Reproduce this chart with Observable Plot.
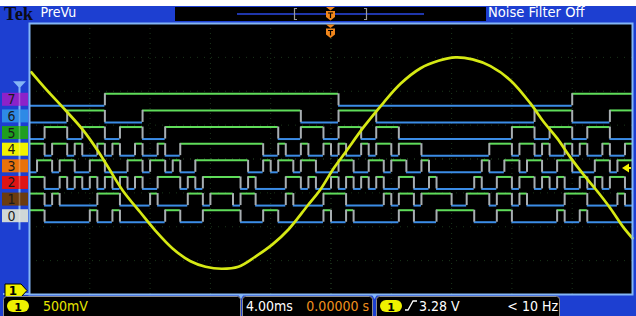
<!DOCTYPE html>
<html>
<head>
<meta charset="utf-8">
<script src="https://cdn.jsdelivr.net/npm/d3@7"></script>
<script src="https://cdn.jsdelivr.net/npm/@observablehq/plot@0.6"></script>
<style>
html, body { margin: 0; padding: 0; background: #ffffff; }
#scope { position: relative; width: 636px; height: 316px; overflow: hidden;
  background: linear-gradient(#ffffff 0, #ffffff 6px, #1d3fd1 6px, #1d3fd1 100%); }
#scope > svg { position: absolute; left: 0; top: 0; }
</style>
</head>
<body>
<div id="scope"></div>
<script>
const timeDomainMs = [-20, 20];          // 10 div x 4.00 ms
const voltDomain = [1.42, 5.42];         // 8 div x 500 mV
const triggerLevelV = 3.28;
const triggerTimeMs = 0;

// analog channel 1 (sine) samples
const sineTimeMs = [-19.87,-18.94,-17.61,-16.42,-15.49,-14.76,-13.83,-12.64,-11.64,-10.51,-9.32,-8.32,-7.26,-6.14,-5.01,-3.88,-2.82,-1.56,-0.70,0.17,0.96,2.16,3.48,4.61,5.94,7.13,8.26,9.39,10.58,11.91,13.23,14.10,15.02,15.89,16.75,17.68,18.54,19.40,20.0];
const sineVolts  = [4.70,4.46,4.14,3.84,3.55,3.29,2.96,2.63,2.36,2.10,1.91,1.83,1.80,1.83,1.98,2.16,2.38,2.73,2.97,3.28,3.52,3.89,4.25,4.53,4.76,4.87,4.92,4.89,4.79,4.58,4.24,3.97,3.72,3.44,3.19,2.94,2.69,2.41,2.25];

// digital channels D0..D7, one bit per 0.5 ms sample from the left edge
const sampleStartMs = -20;
const sampleStepMs = 0.5;
const bitsD0 = ["1100000010","0100000011","0001111100","0110000001","0010000001","1000111110","0011000000","1001000000"].join("");
const bitsD1 = ["1101000001","1100001000","0110111011","0000100001","1100000101","1011110011","1011010000","0111000010"].join("");
const bitsD2 = ["1100101010","1010100111","0101111101","0000110100","1010101001","1001000001","0011011010","1001010110"].join("");
const bitsD3 = ["0110110011","0001101101","0011111110","0101101100","0110011011","0010000000","1001101100","1100011011"].join("");
const bitsD4 = ["1101101001","0100100100","1111111111","1001001001","0100101101","1100000000","0111011010","0101001001"].join("");
const bitsD5 = ["0011100111","0011100011","1111111111","1110001110","0111001110","0000000000","0000111001","1100111000"].join("");
const bitsD6 = ["0000011111","0000011111","1111111111","1111110000","0111110000","0000000000","0000000111","1100000111"].join("");
const bitsD7 = ["0000000000","1111111111","1111111111","1111111111","1000000000","0000000000","0000000000","0011111111"].join("");
const digitalBits = [bitsD0, bitsD1, bitsD2, bitsD3, bitsD4, bitsD5, bitsD6, bitsD7];
const channelLabels = ["0","1","2","3","4","5","6","7"];
const channelColors = ["#cfd7d7","#6b3b10","#e01414","#e8720c","#f2f200","#1f9e1f","#2e8ae6","#8c22c9"];

// texts
const brandText = "Tek";
const modeText = "PreVu";
const filterText = "Noise Filter Off";
const ch1ScaleText = "500mV";
const timeScaleText = "4.00ms";
const delayText = "0.00000 s";
const triggerText = "3.28 V";
const freqText = "< 10 Hz";

// ---------------- layout / style ----------------
const W = 636, H = 316;
const voltsPerDiv = 0.5;
const laneTopDiv = 2.075, lanePitchDiv = 0.491, laneHeightDiv = 0.354;
const frameBlue = "#84b6f5";
const FONT = "'Liberation Sans Narrow','DejaVu Sans Condensed','Arial Narrow',sans-serif";
const highColor = "#5fdc5a", lowColor = "#3b8ce6", edgeColor = "#a8aeb2";

const laneHigh = ch => voltDomain[1] - (laneTopDiv + (7 - ch) * lanePitchDiv) * voltsPerDiv;
const laneLow = ch => laneHigh(ch) - laneHeightDiv * voltsPerDiv;

const runs = [], edges = [];
digitalBits.forEach((bits, ch) => {
  const hi = laneHigh(ch), lo = laneLow(ch);
  let start = 0;
  for (let i = 1; i <= bits.length; i++) {
    if (i === bits.length || bits[i] !== bits[start]) {
      const b = bits[start] === "1";
      runs.push({x1: sampleStartMs + start * sampleStepMs, x2: sampleStartMs + i * sampleStepMs,
                 y: b ? hi : lo, color: b ? highColor : lowColor});
      if (i < bits.length) edges.push({x: sampleStartMs + i * sampleStepMs, y1: lo, y2: hi});
      start = i;
    }
  }
});

const sine = sineTimeMs.map((t, i) => ({t, v: sineVolts[i]}));
const gridX = d3.range(timeDomainMs[0] + 4, timeDomainMs[1], 4);
const gridY = d3.range(1, 8).map(k => voltDomain[0] + k * voltsPerDiv);

const chart = Plot.plot({
  width: W, height: H,
  marginLeft: 29, marginRight: 4, marginTop: 23, marginBottom: 22,
  x: {domain: timeDomainMs, axis: null},
  y: {domain: voltDomain, axis: null},
  color: {type: "identity"},
  style: {background: "transparent"},
  marks: [
    Plot.frame({fill: "#000000", stroke: null}),
    Plot.ruleX(gridX, {stroke: d => d === 0 ? "#2c522c" : "#1a351a", strokeDasharray: "1,4"}),
    Plot.ruleY(gridY, {stroke: (d, i) => i === 3 ? "#2c522c" : "#1a351a", strokeDasharray: "1,6"}),
    Plot.ruleY(runs, {y: "y", x1: "x1", x2: "x2", stroke: "color", strokeWidth: 2}),
    Plot.ruleX(edges, {x: "x", y1: "y1", y2: "y2", stroke: edgeColor, strokeWidth: 2}),
    Plot.line(sine, {x: "t", y: "v", stroke: "#d6e914", strokeWidth: 2.7, curve: "catmull-rom"}),
    Plot.frame({stroke: frameBlue, strokeWidth: 2})
  ]
});
document.getElementById("scope").appendChild(chart);

const xs = chart.scale("x"), ys = chart.scale("y");
const ov = d3.select("#scope").append("svg").attr("width", W).attr("height", H);

function txt(x, y, s, o = {}) {
  return ov.append("text").attr("x", x).attr("y", y).text(s)
    .attr("font-family", o.family || FONT).attr("font-size", o.size || 14)
    .attr("font-weight", o.weight || "normal").attr("fill", o.fill || "#ffffff")
    .attr("text-anchor", o.anchor || "start");
}

// header
txt(4, 19.5, brandText, {family: "'Liberation Serif','DejaVu Serif',serif", size: 18.5, weight: "bold", fill: "#0b0b16"});
txt(40.5, 16.5, modeText, {size: 14});
txt(488, 16.5, filterText, {size: 14.6});
ov.append("rect").attr("x", 175).attr("y", 7).attr("width", 311).attr("height", 14).attr("fill", "#000");
ov.append("line").attr("x1", 237).attr("x2", 424).attr("y1", 14).attr("y2", 14).attr("stroke", "#2a48e6").attr("stroke-width", 1.5);
ov.append("path").attr("d", "M297,8.5H294.5V19.5H297M364,8.5H366.5V19.5H364").attr("fill", "none").attr("stroke", "#9a9a9a").attr("stroke-width", 1.2);

function trigMarker(cx, top) {
  ov.append("path").attr("d", `M${cx-4.5},${top}H${cx+4.5}L${cx},${top+3.5}Z`).attr("fill", "#f0861c");
  ov.append("path").attr("d", `M${cx-4.5},${top+4}H${cx+4.5}V${top+10}L${cx},${top+13.5}L${cx-4.5},${top+10}Z`).attr("fill", "#f0861c");
  ov.append("path").attr("d", `M${cx-2.5},${top+6}H${cx+2.5}M${cx},${top+6}V${top+11}`).attr("stroke", "#000").attr("stroke-width", 1.2);
}
const xTrig = xs.apply(triggerTimeMs);
trigMarker(xTrig, 7);
trigMarker(xTrig, 24.5);

// trigger level arrow (right edge)
const xR = xs.apply(timeDomainMs[1]), yT = ys.apply(triggerLevelV);
ov.append("path").attr("d", `M${xR-10},${yT}L${xR-3},${yT-4.5}V${yT+4.5}Z`).attr("fill", "#f2f200");
ov.append("line").attr("x1", xR-4).attr("x2", xR-1).attr("y1", yT).attr("y2", yT).attr("stroke", "#f2f200").attr("stroke-width", 2);

// digital channel labels
const yTop7 = ys.apply(laneHigh(7)), yBot0 = ys.apply(laneLow(0));
ov.append("line").attr("x1", 19.5).attr("x2", 19.5).attr("y1", yTop7 - 6).attr("y2", yBot0 + 8).attr("stroke", frameBlue).attr("stroke-width", 2);
ov.append("path").attr("d", `M13,${yTop7-12}H26L19.5,${yTop7-5}Z`).attr("fill", frameBlue);
channelLabels.forEach((lab, ch) => {
  const y1 = ys.apply(laneHigh(ch)) - 0.5, y2 = ys.apply(laneLow(ch)) + 0.5;
  ov.append("rect").attr("x", 2).attr("y", y1).attr("width", 26).attr("height", y2 - y1).attr("fill", channelColors[ch]);
  ov.append("line").attr("x1", 19.5).attr("x2", 19.5).attr("y1", y1).attr("y2", y2).attr("stroke", "#ffffff").attr("stroke-opacity", 0.25).attr("stroke-width", 1.5);
  txt(11.5, (y1 + y2) / 2 + 5, lab, {size: 14, fill: "#1a1a1a", anchor: "middle"});
});

// ground marker of channel 1
ov.append("line").attr("x1", 3).attr("x2", 30).attr("y1", 294).attr("y2", 294).attr("stroke", frameBlue).attr("stroke-width", 2);
ov.append("path").attr("d", "M5,284H21L27,290.5L21,297H5Z").attr("fill", "#f2f200").attr("stroke", "#000").attr("stroke-width", 1);
txt(13, 295, "1", {size: 12, weight: "bold", fill: "#000", anchor: "middle", family: "'DejaVu Sans',sans-serif"});

// status bar
function box(x, w) {
  ov.append("rect").attr("x", x).attr("y", 296.5).attr("width", w).attr("height", 24).attr("rx", 3)
    .attr("fill", "#000").attr("stroke", "#8c8c8c").attr("stroke-width", 1);
}
function pill(x) {
  ov.append("rect").attr("x", x).attr("y", 300).attr("width", 22).attr("height", 12).attr("rx", 6).attr("fill", "#eef000");
  txt(x + 11, 310.5, "1", {size: 11, weight: "bold", fill: "#000", anchor: "middle", family: "'DejaVu Sans',sans-serif"});
}
box(3.5, 237); box(242.5, 130); box(376.5, 183);
ov.append("path").attr("d", "M238,294H244L241,299ZM371.5,294H377.5L374.5,299Z").attr("fill", frameBlue);
pill(7);
txt(43, 310.5, ch1ScaleText, {fill: "#e6e600"});
txt(246, 310.5, timeScaleText);
txt(369, 310.5, delayText, {fill: "#f0901e", anchor: "end"});
pill(380);
ov.append("polyline").attr("points", "405,310 408,310 413,301 417,301").attr("fill", "none").attr("stroke", "#fff").attr("stroke-width", 1.3);
txt(419, 310.5, triggerText);
txt(558, 310.5, freqText, {anchor: "end"});
</script>
</body>
</html>
